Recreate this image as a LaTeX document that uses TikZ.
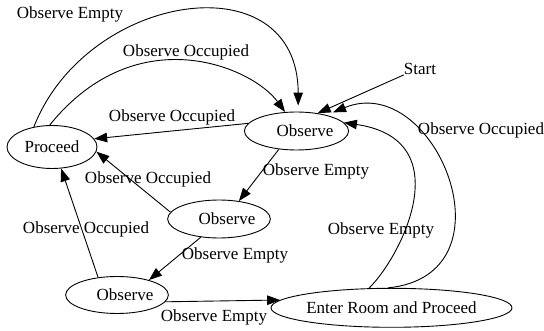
\documentclass[tikz,border=0pt]{standalone}
\usepackage{fontspec}
\setmainfont{Liberation Serif}
\usetikzlibrary{arrows.meta,shapes.geometric}
\begin{document}
\begin{tikzpicture}[x=1pt,y=-1pt,
  every node/.style={font=\fontsize{17}{20}\selectfont},
  state/.style={draw,ellipse,line width=0.9pt,inner sep=0pt,minimum width=90pt,minimum height=38pt},
  lbl/.style={inner sep=0pt},
  edge/.style={line width=0.9pt,-{Triangle[length=13pt,width=9.5pt]}}]
\useasboundingbox (0,0) rectangle (544,331);
% states
\node[state,minimum height=43pt] (P) at (52,147) {Proceed\hspace{8pt}};
\node[state,minimum width=91pt] (O1) at (296.5,131) {\hspace{17pt}Observe};
\node[state,minimum width=91pt] (O2) at (219,219) {\hspace{16pt}Observe};
\node[state,minimum height=37pt] (O3) at (117,295) {\hspace{16pt}Observe};
\node[state,minimum width=205pt,minimum height=39pt] (E) at (391.5,307.8) {Enter Room and Proceed\hspace{8pt}};
\node[lbl] (S) at (420,69) {Start};
% labels
\node[lbl] (l1) at (70,14) {Observe Empty};
\node[lbl] (l2) at (186,52) {Observe Occupied};
\node[lbl] (l3) at (172,117) {Observe Occupied};
\node[lbl] (l4) at (481,130) {Observe Occupied};
\node[lbl] (l5) at (316,171) {Observe Empty};
\node[lbl] (l6) at (148,179) {Observe Occupied};
\node[lbl] (l7) at (86,229) {Observe Occupied};
\node[lbl] (l8) at (235,255) {Observe Empty};
\node[lbl] (l9) at (381,230) {Observe Empty};
\node[lbl] (l10) at (214,317) {Observe Empty};
% edges
\draw[edge] (S.south west) -- (O1.40);
\draw[edge,shorten >=6pt] (P.132) .. controls (87,-8.6) and (298,-40) .. (O1.85);
\draw[edge] (P.96) .. controls (136.6,17.5) and (252,66.7) .. (O1.121);
\draw[edge] (O1.171) -- (P.11);
\draw[edge] (O1.226) -- (O2.42);
\draw[edge] (O2.172) -- (P.-6);
\draw[edge] (O2.225) -- (O3.25);
\draw[edge] (O3.137) -- (P.-67);
\draw[edge] (O3.-8) -- (E.176);
\draw[edge] (E.139) .. controls (401.4,256.6) and (460.3,139.7) .. (O1.10);
\draw[edge,shorten >=7pt] (E.100) .. controls (518,275) and (435.5,70.5) .. (O1.28);
\end{tikzpicture}
\end{document}
